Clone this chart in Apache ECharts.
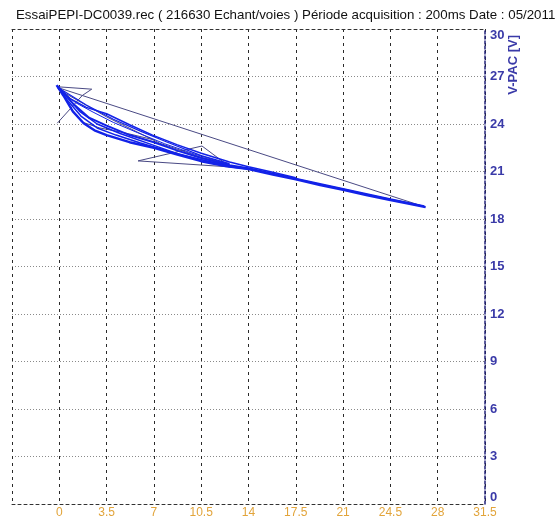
<!DOCTYPE html>
<html>
<head>
<meta charset="utf-8">
<title>V-PAC</title>
<script src="https://cdn.jsdelivr.net/npm/echarts@6/dist/echarts.min.js"></script>
<style>
  html, body { margin: 0; padding: 0; background: #ffffff; }
  #chart { width: 555px; height: 519px; }
</style>
</head>
<body>
<div id="chart"></div>
<script>
// Acquisition title and axis settings
const titleText = 'EssaiPEPI-DC0039.rec ( 216630 Echant/voies ) Période acquisition : 200ms Date : 05/2011';
const yAxisName = 'V-PAC [V]';
const xTicks = [-3.5, 0, 3.5, 7, 10.5, 14, 17.5, 21, 24.5, 28, 31.5];
const yTicks = [0, 3, 6, 9, 12, 15, 18, 21, 24, 27, 30];

// Recorded passes of the trace (x value, V-PAC in volts)
const passLowX = [-0.2, 0.3, 1.0, 1.8, 2.6, 3.5, 5.2, 7.0, 8.8, 10.5, 12.3, 14.0, 15.8, 17.5, 19.3, 21.0, 22.8, 24.5, 26.0, 27.1];
const passLowY = [26.45, 25.8, 24.8, 24.05, 23.6, 23.3, 22.85, 22.5, 22.05, 21.65, 21.35, 21.15, 20.8, 20.5, 20.15, 19.85, 19.5, 19.2, 18.95, 18.75];

const passHighX = [-0.1, 0.8, 2.0, 3.5, 5.2, 6.9, 8.7, 10.5, 12.6, 14.0, 15.8, 17.5];
const passHighY = [26.3, 25.6, 25.05, 24.65, 23.95, 23.3, 22.7, 22.15, 21.6, 21.3, 20.95, 20.6];

const passMidX = [-0.1, 1.0, 2.2, 3.5, 5.2, 7.0, 8.8, 10.5, 12.6, 14.0, 17.5, 21.0, 24.5, 27.0];
const passMidY = [26.35, 25.3, 24.4, 23.9, 23.3, 22.85, 22.3, 21.85, 21.4, 21.2, 20.55, 19.9, 19.25, 18.8];

const passFourX = [-0.1, 1.5, 2.8, 4.5, 7.0, 9.0, 10.5, 12.6];
const passFourY = [26.4, 24.8, 24.0, 23.4, 22.65, 22.05, 21.75, 21.35];

const passFiveX = [-0.1, 2.0, 4.0, 6.0, 8.0, 10.5, 12.6];
const passFiveY = [26.3, 25.2, 24.3, 23.55, 22.85, 22.0, 21.5];

const passSixX = [-0.15, 0.6, 1.6, 2.8, 4.2, 6.0, 8.0, 10.5, 12.6, 14.0];
const passSixY = [26.4, 25.5, 24.5, 23.75, 23.3, 22.8, 22.3, 21.75, 21.3, 21.15];

const passSevenX = [-0.1, 1.2, 2.5, 4.0, 5.8, 7.8, 10.0, 12.6];
const passSevenY = [26.25, 25.35, 24.75, 24.1, 23.45, 22.75, 22.1, 21.45];

// Thin transitions between passes
const returnX = [27.1, -0.1];
const returnY = [18.75, 26.3];

const slopeX = [-0.1, 3.5, 7.45, 10.5, 12.6];
const slopeY = [26.2, 24.45, 22.78, 21.9, 21.45];

const spikeX = [-0.1, 2.4, 1.7, -0.15];
const spikeY = [26.35, 26.2, 25.8, 24.05];

const loopX = [5.83, 10.56, 12.63, 5.83];
const loopY = [21.67, 22.61, 21.29, 21.67];

const bendX = [1.75, 3.0, 4.8, 7.0];
const bendY = [24.1, 23.75, 23.45, 23.0];

function pairs(xs, ys) {
  return xs.map((x, i) => [x, ys[i]]);
}

const blueColor = '#1222e8';
const thinColor = '#4a4a84';

function blueSeries(xs, ys, w) {
  return {
    type: 'line', data: pairs(xs, ys), showSymbol: false, symbol: 'none',
    lineStyle: { color: blueColor, width: w }, silent: true
  };
}
function thinSeries(xs, ys) {
  return {
    type: 'line', data: pairs(xs, ys), showSymbol: false, symbol: 'none',
    lineStyle: { color: thinColor, width: 1 }, silent: true
  };
}

const chart = echarts.init(document.getElementById('chart'), null, { renderer: 'canvas' });

const fontFam = '"Liberation Sans", Arial, sans-serif';

chart.setOption({
  animation: false,
  backgroundColor: '#ffffff',
  title: {
    text: titleText,
    left: 11, top: 4,
    textStyle: { fontSize: 13.3, fontWeight: 'normal', color: '#111111', fontFamily: fontFam }
  },
  grid: {
    left: 12, right: 70, top: 29, bottom: 15,
    containLabel: false,
    outerBoundsMode: 'none'
  },
  xAxis: [{
    type: 'value',
    min: xTicks[0], max: xTicks[xTicks.length - 1], interval: 3.5,
    position: 'bottom',
    axisLine: { show: true, onZero: false, lineStyle: { color: '#333333', type: [3, 3], width: 1 } },
    axisTick: { show: false },
    axisLabel: {
      showMinLabel: false, margin: 3,
      color: '#e2a43a', fontSize: 12, fontFamily: fontFam
    },
    splitLine: { show: true, lineStyle: { color: '#2a2a2a', type: [3, 4], width: 1 } }
  }, {
    type: 'value',
    min: xTicks[0], max: xTicks[xTicks.length - 1], interval: 3.5,
    position: 'top',
    axisLine: { show: true, onZero: false, lineStyle: { color: '#333333', type: [3, 3], width: 1 } },
    axisTick: { show: false },
    axisLabel: { show: false },
    splitLine: { show: false }
  }],
  yAxis: {
    type: 'value',
    min: yTicks[0], max: yTicks[yTicks.length - 1], interval: 3,
    position: 'right',
    name: yAxisName,
    nameLocation: 'end',
    nameRotate: 90,
    nameGap: -6,
    nameMoveOverlap: false,
    nameTextStyle: {
      color: '#3a3aa8', fontSize: 13, fontWeight: 'bold', fontFamily: fontFam,
      align: 'right', verticalAlign: 'top', padding: [22, 0, 0, 0]
    },
    axisLine: { show: true, onZero: false, lineStyle: { color: '#22227a', type: [3, 2], width: 1.5 } },
    axisTick: { show: false },
    axisLabel: {
      margin: 5, color: '#3a3aa8', fontSize: 13, fontWeight: 'bold', fontFamily: fontFam,
      verticalAlignMaxLabel: 'top', verticalAlignMinLabel: 'bottom'
    },
    splitLine: { show: true, showMaxLine: false, showMinLine: false, lineStyle: { color: '#8a8a8a', type: [1, 2], width: 1 } }
  },
  series: [
    thinSeries(returnX, returnY),
    thinSeries(slopeX, slopeY),
    thinSeries(spikeX, spikeY),
    thinSeries(loopX, loopY),
    thinSeries(bendX, bendY),
    blueSeries(passSevenX, passSevenY, 1),
    blueSeries(passFiveX, passFiveY, 1.2),
    blueSeries(passSixX, passSixY, 1.5),
    blueSeries(passFourX, passFourY, 1.5),
    blueSeries(passHighX, passHighY, 1.5),
    blueSeries(passMidX, passMidY, 2),
    blueSeries(passLowX, passLowY, 2.4)
  ]
});
</script>
</body>
</html>
